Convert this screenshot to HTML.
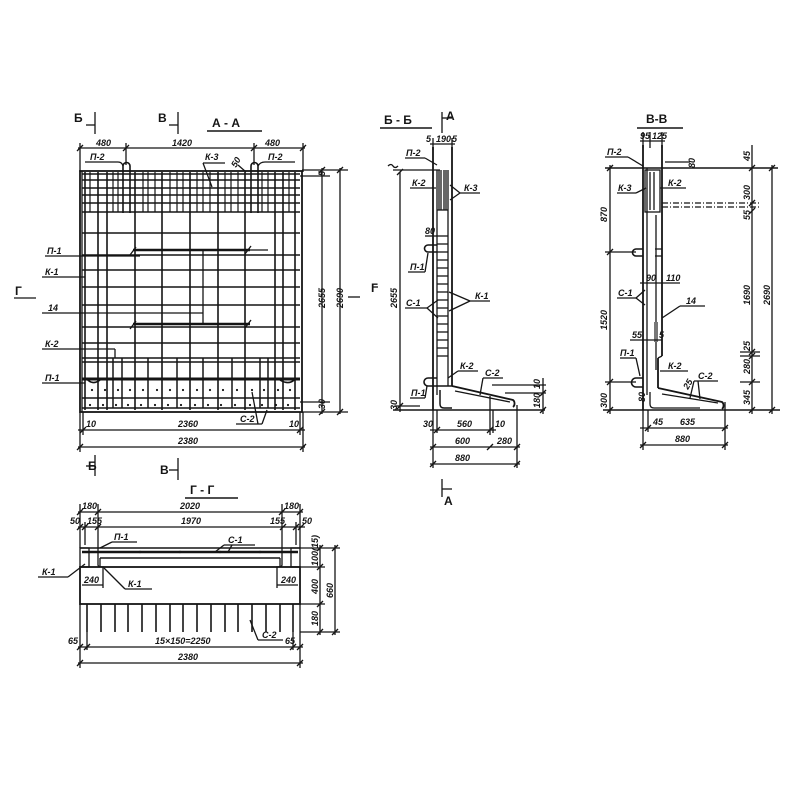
<!DOCTYPE html>
<html><head><meta charset="utf-8">
<style>
html,body{margin:0;padding:0;background:#fff;}
svg{display:block;}
text{font-family:"Liberation Sans",sans-serif;font-style:italic;font-weight:bold;fill:#151515;font-size:9px;}
.t{font-size:12px;font-style:normal;}
</style></head><body>
<svg width="800" height="800" viewBox="0 0 800 800" xmlns="http://www.w3.org/2000/svg">
<rect width="800" height="800" fill="#fff"/>
<g stroke="#151515" stroke-width="1.3" fill="none">

<!-- ================= A-A ================= -->
<line x1="95" y1="112" x2="95" y2="134"/><line x1="86" y1="125" x2="95" y2="125"/>
<line x1="178" y1="112" x2="178" y2="134"/><line x1="169" y1="125" x2="178" y2="125"/>
<line x1="207" y1="131" x2="262" y2="131" stroke-width="1.6"/>
<line x1="95" y1="455" x2="95" y2="476"/><line x1="86" y1="466" x2="95" y2="466"/>
<line x1="178" y1="458" x2="178" y2="480"/><line x1="169" y1="470" x2="178" y2="470"/>
<line x1="78" y1="148" x2="305" y2="148"/>
<line x1="80" y1="143" x2="80" y2="172"/><line x1="126" y1="143" x2="126" y2="165"/>
<line x1="254" y1="143" x2="254" y2="165"/><line x1="303" y1="143" x2="303" y2="172"/>
<line x1="77" y1="151" x2="83" y2="145"/><line x1="123" y1="151" x2="129" y2="145"/>
<line x1="251" y1="151" x2="257" y2="145"/><line x1="300" y1="151" x2="306" y2="145"/>
<rect x="80" y="171" width="222" height="241" stroke-width="1.8"/>
<line x1="82" y1="171" x2="82" y2="412"/>
<g stroke-width="1.5">
<line x1="82" y1="174" x2="300" y2="174"/><line x1="82" y1="180" x2="300" y2="180"/>
<line x1="82" y1="188" x2="300" y2="188"/><line x1="82" y1="195" x2="300" y2="195"/>
<line x1="82" y1="203" x2="300" y2="203"/><line x1="82" y1="212" x2="300" y2="212"/>
<line x1="82" y1="233" x2="300" y2="233"/><line x1="82" y1="255" x2="300" y2="255"/>
<line x1="82" y1="270" x2="300" y2="270"/><line x1="82" y1="287" x2="300" y2="287"/>
<line x1="82" y1="305" x2="300" y2="305"/><line x1="82" y1="327" x2="300" y2="327"/>
<line x1="82" y1="343" x2="300" y2="343"/><line x1="82" y1="358" x2="300" y2="358"/>
<line x1="82" y1="362" x2="300" y2="362"/><line x1="82" y1="398" x2="300" y2="398"/>
<line x1="82" y1="408" x2="300" y2="408"/>
</g>
<line x1="82" y1="379" x2="300" y2="379" stroke-width="3"/>
<line x1="133" y1="250" x2="250" y2="250" stroke-width="2.6"/>
<line x1="250" y1="250" x2="268" y2="250"/>
<line x1="133" y1="324" x2="250" y2="324" stroke-width="2.6"/>
<line x1="203" y1="250" x2="203" y2="324"/>
<line x1="130" y1="255" x2="136" y2="247"/><line x1="245" y1="254" x2="251" y2="246"/>
<line x1="130" y1="329" x2="136" y2="321"/><line x1="245" y1="328" x2="251" y2="320"/>
<g stroke-width="1.6">
<line x1="85" y1="172" x2="85" y2="410"/><line x1="98" y1="172" x2="98" y2="410"/>
<line x1="107" y1="172" x2="107" y2="410"/><line x1="135" y1="172" x2="135" y2="410"/>
<line x1="162" y1="172" x2="162" y2="410"/><line x1="190" y1="172" x2="190" y2="410"/>
<line x1="218" y1="172" x2="218" y2="410"/><line x1="245" y1="172" x2="245" y2="410"/>
<line x1="275" y1="172" x2="275" y2="410"/><line x1="283" y1="172" x2="283" y2="410"/>
<line x1="295" y1="172" x2="295" y2="410"/>
</g>
<g stroke-width="1.2">
<line x1="90" y1="172" x2="90" y2="212"/><line x1="113" y1="172" x2="113" y2="212"/>
<line x1="118" y1="172" x2="118" y2="212"/><line x1="143" y1="172" x2="143" y2="212"/>
<line x1="148" y1="172" x2="148" y2="212"/><line x1="155" y1="172" x2="155" y2="212"/>
<line x1="170" y1="172" x2="170" y2="212"/><line x1="177" y1="172" x2="177" y2="212"/>
<line x1="183" y1="172" x2="183" y2="212"/><line x1="197" y1="172" x2="197" y2="212"/>
<line x1="203" y1="172" x2="203" y2="212"/><line x1="210" y1="172" x2="210" y2="212"/>
<line x1="225" y1="172" x2="225" y2="212"/><line x1="231" y1="172" x2="231" y2="212"/>
<line x1="238" y1="172" x2="238" y2="212"/><line x1="262" y1="172" x2="262" y2="212"/>
<line x1="268" y1="172" x2="268" y2="212"/><line x1="289" y1="172" x2="289" y2="212"/>
</g>
<path d="M123,213 L123,166 A3.5,3.5 0 0 1 130,166 L130,213" stroke-width="1.6"/>
<path d="M251,213 L251,166 A3.5,3.5 0 0 1 258,166 L258,213" stroke-width="1.6"/>
<g stroke-width="1.5">
<line x1="113" y1="358" x2="113" y2="408"/><line x1="122" y1="358" x2="122" y2="408"/>
<line x1="148" y1="358" x2="148" y2="408"/><line x1="177" y1="358" x2="177" y2="408"/>
<line x1="203" y1="358" x2="203" y2="408"/><line x1="232" y1="358" x2="232" y2="408"/>
<line x1="260" y1="358" x2="260" y2="408"/><line x1="268" y1="358" x2="268" y2="408"/>
</g>
<path d="M86,378 Q92,386 100,380" stroke-width="1.6"/>
<path d="M280,380 Q290,386 296,378" stroke-width="1.6"/>
<line x1="45" y1="256" x2="140" y2="256"/>
<line x1="42" y1="277" x2="85" y2="277"/>
<line x1="42" y1="313" x2="203" y2="313"/>
<line x1="42" y1="349" x2="115" y2="349"/><line x1="115" y1="349" x2="115" y2="358"/>
<line x1="42" y1="383" x2="85" y2="383"/>
<line x1="85" y1="162" x2="118" y2="162"/><path d="M118,162 Q122,162 123,166"/>
<line x1="265" y1="162" x2="295" y2="162"/><path d="M265,162 Q260,162 258,166"/>
<line x1="203" y1="163" x2="225" y2="163"/><line x1="203" y1="163" x2="212" y2="187"/>
<line x1="238" y1="165" x2="246" y2="172"/>
<line x1="236" y1="424" x2="262" y2="424"/><line x1="262" y1="424" x2="267" y2="410"/><line x1="258" y1="424" x2="252" y2="392"/>
<line x1="302" y1="170" x2="348" y2="170"/><line x1="302" y1="412" x2="348" y2="412"/>
<line x1="300" y1="176" x2="330" y2="176"/><line x1="300" y1="402" x2="330" y2="402"/>
<line x1="322" y1="168" x2="322" y2="414"/><line x1="340" y1="168" x2="340" y2="414"/>
<line x1="319" y1="173" x2="325" y2="167"/><line x1="319" y1="415" x2="325" y2="409"/>
<line x1="337" y1="173" x2="343" y2="167"/><line x1="337" y1="415" x2="343" y2="409"/>
<line x1="348" y1="297" x2="360" y2="297"/>
<line x1="14" y1="298" x2="36" y2="298"/>
<line x1="80" y1="412" x2="80" y2="452"/><line x1="83" y1="412" x2="83" y2="435"/>
<line x1="300" y1="412" x2="300" y2="435"/><line x1="303" y1="412" x2="303" y2="452"/>
<line x1="78" y1="430" x2="305" y2="430"/><line x1="78" y1="447" x2="305" y2="447"/>
<line x1="80" y1="433" x2="86" y2="427"/><line x1="297" y1="433" x2="303" y2="427"/>
<line x1="77" y1="450" x2="83" y2="444"/><line x1="300" y1="450" x2="306" y2="444"/>

<!-- ================= Б-Б ================= -->
<line x1="380" y1="128" x2="432" y2="128" stroke-width="1.6"/>
<line x1="442" y1="112" x2="442" y2="133"/><line x1="442" y1="118" x2="452" y2="118"/>
<line x1="433" y1="138" x2="433" y2="150"/><line x1="452" y1="138" x2="452" y2="150"/>
<line x1="430" y1="144" x2="455" y2="144"/>
<line x1="433" y1="147" x2="433" y2="410" stroke-width="1.8"/>
<line x1="452" y1="147" x2="452" y2="386" stroke-width="1.8"/>
<line x1="437" y1="170" x2="437" y2="395"/><line x1="448" y1="170" x2="448" y2="386"/>
<g>
<line x1="439" y1="170" x2="439" y2="210"/><line x1="441" y1="170" x2="441" y2="210"/>
<line x1="444" y1="170" x2="444" y2="210"/><line x1="446" y1="170" x2="446" y2="210"/>
<line x1="437" y1="210" x2="448" y2="210"/>
<line x1="437" y1="236" x2="448" y2="236"/><line x1="437" y1="244" x2="448" y2="244"/>
<line x1="437" y1="252" x2="448" y2="252"/><line x1="437" y1="260" x2="448" y2="260"/>
<line x1="437" y1="268" x2="448" y2="268"/><line x1="437" y1="276" x2="448" y2="276"/>
<line x1="437" y1="284" x2="448" y2="284"/><line x1="437" y1="292" x2="448" y2="292"/>
<line x1="437" y1="300" x2="448" y2="300"/><line x1="437" y1="308" x2="448" y2="308"/>
<line x1="437" y1="316" x2="448" y2="316"/><line x1="437" y1="324" x2="448" y2="324"/>
<line x1="437" y1="332" x2="448" y2="332"/><line x1="437" y1="340" x2="448" y2="340"/>
<line x1="437" y1="348" x2="448" y2="348"/><line x1="437" y1="356" x2="448" y2="356"/>
</g>
<line x1="393" y1="170" x2="440" y2="170"/><path d="M388,166 q3,-3 5,0 q2,3 5,0"/>
<path d="M437,245 L428,245 A3.5,3.5 0 0 0 428,252 L437,252" stroke-width="1.6"/>
<path d="M437,378 L428,378 A4,4 0 0 0 428,386 L452,386" stroke-width="1.6"/>
<path d="M452,386 L513,400 A3,4 0 0 1 513,407" stroke-width="1.8"/>
<path d="M440,390 L440,404 Q440,408 444,408 L452,408" stroke-width="1.5"/>
<line x1="455" y1="391" x2="510" y2="402"/>
<line x1="490" y1="396" x2="490" y2="435"/>
<line x1="393" y1="410" x2="545" y2="410" stroke-width="1.6"/>
<line x1="400" y1="172" x2="400" y2="412"/>
<line x1="397" y1="175" x2="403" y2="169"/><line x1="397" y1="409" x2="403" y2="403"/>
<line x1="395" y1="406" x2="420" y2="406"/>
<line x1="372" y1="287" x2="378" y2="287"/>
<line x1="492" y1="385" x2="546" y2="385"/><line x1="505" y1="393" x2="546" y2="393"/>
<line x1="543" y1="378" x2="543" y2="414"/>
<line x1="540" y1="396" x2="546" y2="390"/><line x1="540" y1="413" x2="546" y2="407"/>
<line x1="433" y1="410" x2="433" y2="468"/><line x1="437" y1="410" x2="437" y2="433"/>
<line x1="493" y1="410" x2="493" y2="433"/><line x1="517" y1="405" x2="517" y2="468"/>
<line x1="430" y1="430" x2="496" y2="430"/>
<line x1="430" y1="447" x2="520" y2="447"/>
<line x1="430" y1="464" x2="520" y2="464"/>
<line x1="434" y1="433" x2="440" y2="427"/><line x1="487" y1="433" x2="493" y2="427"/>
<line x1="430" y1="450" x2="436" y2="444"/><line x1="487" y1="450" x2="493" y2="444"/><line x1="514" y1="450" x2="520" y2="444"/>
<line x1="430" y1="467" x2="436" y2="461"/><line x1="514" y1="467" x2="520" y2="461"/>
<line x1="442" y1="479" x2="442" y2="497"/><line x1="442" y1="489" x2="452" y2="489"/>
<line x1="405" y1="158" x2="425" y2="158"/><line x1="425" y1="158" x2="437" y2="165"/>
<line x1="410" y1="188" x2="436" y2="188"/>
<line x1="460" y1="193" x2="480" y2="193"/><line x1="460" y1="193" x2="450" y2="185"/><line x1="460" y1="193" x2="450" y2="200"/>
<line x1="425" y1="236" x2="437" y2="236"/>
<line x1="408" y1="272" x2="425" y2="272"/><line x1="425" y1="272" x2="428" y2="253"/>
<line x1="470" y1="301" x2="490" y2="301"/><line x1="470" y1="301" x2="449" y2="292"/><line x1="470" y1="301" x2="449" y2="311"/>
<line x1="405" y1="308" x2="427" y2="308"/><line x1="427" y1="308" x2="438" y2="300"/><line x1="427" y1="308" x2="438" y2="318"/>
<line x1="458" y1="371" x2="478" y2="371"/><line x1="458" y1="371" x2="448" y2="378"/>
<line x1="483" y1="378" x2="503" y2="378"/><line x1="483" y1="378" x2="480" y2="395"/>
<line x1="410" y1="398" x2="425" y2="398"/><line x1="425" y1="398" x2="427" y2="386"/>

<!-- ================= В-В ================= -->
<line x1="637" y1="128" x2="683" y2="128" stroke-width="1.6"/>
<line x1="643" y1="132" x2="643" y2="148"/><line x1="650" y1="132" x2="650" y2="148"/><line x1="662" y1="132" x2="662" y2="148"/>
<line x1="640" y1="141" x2="665" y2="141"/>
<line x1="643" y1="145" x2="643" y2="410" stroke-width="1.8"/>
<line x1="647" y1="168" x2="647" y2="395"/>
<line x1="662" y1="145" x2="662" y2="356" stroke-width="1.8"/>
<line x1="662" y1="356" x2="658" y2="358"/>
<line x1="658" y1="358" x2="658" y2="388" stroke-width="1.8"/>
<line x1="656" y1="215" x2="656" y2="370"/>
<line x1="605" y1="168" x2="778" y2="168" stroke-width="1.5"/>
<line x1="665" y1="162" x2="690" y2="162"/>
<rect x="645" y="170" width="15" height="42"/>
<line x1="650" y1="172" x2="650" y2="210"/><line x1="654" y1="172" x2="654" y2="210"/>
<line x1="662" y1="203" x2="760" y2="203" stroke-dasharray="6,2,1,2"/>
<line x1="662" y1="207" x2="760" y2="207" stroke-dasharray="6,2,1,2"/>
<path d="M643,249 L636,249 A3.5,3.5 0 0 0 636,256 L643,256" stroke-width="1.6"/>
<path d="M655,249 L662,249 M655,256 L662,256"/>
<path d="M643,378 L636,378 A4,4 0 0 0 636,387 L643,387" stroke-width="1.6"/>
<path d="M658,388 L722,402 A3,4 0 0 1 722,409" stroke-width="1.8"/>
<path d="M650,392 L650,404 Q650,408 654,408 L700,408"/>
<line x1="662" y1="394" x2="718" y2="403"/>
<line x1="603" y1="410" x2="780" y2="410" stroke-width="1.6"/>
<line x1="610" y1="165" x2="610" y2="414"/>
<line x1="607" y1="171" x2="613" y2="165"/><line x1="607" y1="255" x2="613" y2="249"/>
<line x1="607" y1="385" x2="613" y2="379"/><line x1="607" y1="413" x2="613" y2="407"/>
<line x1="605" y1="252" x2="636" y2="252"/><line x1="605" y1="382" x2="636" y2="382"/>
<line x1="752" y1="145" x2="752" y2="414"/><line x1="772" y1="165" x2="772" y2="414"/>
<line x1="749" y1="171" x2="755" y2="165"/><line x1="749" y1="206" x2="755" y2="200"/>
<line x1="749" y1="214" x2="755" y2="208"/><line x1="749" y1="355" x2="755" y2="349"/>
<line x1="749" y1="359" x2="755" y2="353"/><line x1="749" y1="385" x2="755" y2="379"/>
<line x1="749" y1="413" x2="755" y2="407"/>
<line x1="769" y1="171" x2="775" y2="165"/><line x1="769" y1="413" x2="775" y2="407"/>
<line x1="740" y1="352" x2="760" y2="352"/><line x1="740" y1="356" x2="760" y2="356"/>
<line x1="740" y1="382" x2="760" y2="382"/>
<line x1="643" y1="410" x2="643" y2="450"/><line x1="648" y1="410" x2="648" y2="432"/>
<line x1="725" y1="402" x2="725" y2="450"/>
<line x1="640" y1="428" x2="728" y2="428"/><line x1="640" y1="445" x2="728" y2="445"/>
<line x1="645" y1="431" x2="651" y2="425"/><line x1="722" y1="431" x2="728" y2="425"/>
<line x1="640" y1="448" x2="646" y2="442"/><line x1="722" y1="448" x2="728" y2="442"/>
<line x1="605" y1="157" x2="628" y2="157"/><line x1="628" y1="157" x2="643" y2="166"/>
<line x1="617" y1="193" x2="636" y2="193"/><line x1="636" y1="193" x2="646" y2="188"/>
<line x1="660" y1="188" x2="686" y2="188"/>
<line x1="640" y1="283" x2="680" y2="283"/>
<line x1="617" y1="298" x2="636" y2="298"/><line x1="636" y1="298" x2="645" y2="290"/><line x1="636" y1="298" x2="645" y2="305"/>
<line x1="680" y1="306" x2="705" y2="306"/><line x1="680" y1="306" x2="662" y2="318"/>
<rect x="654" y="322" width="4" height="20" fill="#777" stroke="none"/>
<line x1="630" y1="340" x2="662" y2="340"/>
<line x1="620" y1="358" x2="636" y2="358"/><line x1="636" y1="358" x2="640" y2="376"/>
<line x1="660" y1="371" x2="688" y2="371"/>
<line x1="694" y1="381" x2="718" y2="381"/><line x1="694" y1="381" x2="690" y2="398"/><line x1="698" y1="381" x2="700" y2="399"/>

<!-- ================= Г-Г ================= -->
<line x1="185" y1="498" x2="238" y2="498" stroke-width="1.6"/>
<line x1="78" y1="512" x2="303" y2="512"/><line x1="78" y1="527" x2="305" y2="527"/>
<line x1="80" y1="504" x2="80" y2="548"/><line x1="98" y1="504" x2="98" y2="545"/>
<line x1="282" y1="504" x2="282" y2="545"/><line x1="300" y1="504" x2="300" y2="548"/>
<line x1="85" y1="522" x2="85" y2="545"/><line x1="296" y1="522" x2="296" y2="545"/>
<line x1="77" y1="515" x2="83" y2="509"/><line x1="95" y1="515" x2="101" y2="509"/>
<line x1="279" y1="515" x2="285" y2="509"/><line x1="297" y1="515" x2="303" y2="509"/>
<line x1="77" y1="530" x2="83" y2="524"/><line x1="82" y1="530" x2="88" y2="524"/><line x1="95" y1="530" x2="101" y2="524"/>
<line x1="280" y1="530" x2="286" y2="524"/><line x1="293" y1="530" x2="299" y2="524"/><line x1="298" y1="530" x2="304" y2="524"/>
<line x1="80" y1="548" x2="300" y2="548" stroke-width="1.6"/>
<line x1="82" y1="552" x2="298" y2="552" stroke-width="2.6"/>
<line x1="100" y1="558" x2="280" y2="558" stroke-width="1.6"/>
<rect x="80" y="548" width="9" height="19"/><rect x="291" y="548" width="9" height="19"/>
<path d="M100,558 L100,567 M280,558 L280,567"/>
<path d="M98,545 L98,565 Q98,567 104,567"/>
<path d="M282,545 L282,565 Q282,567 276,567"/>
<rect x="80" y="567" width="220" height="37" stroke-width="1.8"/>
<g stroke-width="1.6">
<line x1="87" y1="604" x2="87" y2="632"/><line x1="101" y1="604" x2="101" y2="632"/>
<line x1="115" y1="604" x2="115" y2="632"/><line x1="128" y1="604" x2="128" y2="632"/>
<line x1="142" y1="604" x2="142" y2="632"/><line x1="156" y1="604" x2="156" y2="632"/>
<line x1="170" y1="604" x2="170" y2="632"/><line x1="183" y1="604" x2="183" y2="632"/>
<line x1="197" y1="604" x2="197" y2="632"/><line x1="211" y1="604" x2="211" y2="632"/>
<line x1="225" y1="604" x2="225" y2="632"/><line x1="238" y1="604" x2="238" y2="632"/>
<line x1="252" y1="604" x2="252" y2="632"/><line x1="266" y1="604" x2="266" y2="632"/>
<line x1="280" y1="604" x2="280" y2="632"/><line x1="293" y1="604" x2="293" y2="632"/>
</g>
<line x1="80" y1="604" x2="80" y2="668"/><line x1="300" y1="604" x2="300" y2="668"/>
<line x1="87" y1="632" x2="87" y2="650"/><line x1="293" y1="632" x2="293" y2="650"/>
<line x1="78" y1="647" x2="303" y2="647"/><line x1="78" y1="663" x2="303" y2="663"/>
<line x1="77" y1="650" x2="83" y2="644"/><line x1="84" y1="650" x2="90" y2="644"/>
<line x1="290" y1="650" x2="296" y2="644"/><line x1="297" y1="650" x2="303" y2="644"/>
<line x1="77" y1="666" x2="83" y2="660"/><line x1="297" y1="666" x2="303" y2="660"/>
<line x1="300" y1="548" x2="340" y2="548"/><line x1="300" y1="567" x2="325" y2="567"/>
<line x1="300" y1="604" x2="325" y2="604"/><line x1="300" y1="632" x2="340" y2="632"/>
<line x1="320" y1="545" x2="320" y2="635"/><line x1="335" y1="545" x2="335" y2="635"/>
<line x1="317" y1="551" x2="323" y2="545"/><line x1="317" y1="570" x2="323" y2="564"/>
<line x1="317" y1="607" x2="323" y2="601"/><line x1="317" y1="635" x2="323" y2="629"/>
<line x1="332" y1="551" x2="338" y2="545"/><line x1="332" y1="635" x2="338" y2="629"/>
<line x1="38" y1="577" x2="68" y2="577"/><line x1="68" y1="577" x2="85" y2="564"/>
<line x1="112" y1="542" x2="137" y2="542"/><line x1="112" y1="542" x2="100" y2="548"/>
<line x1="224" y1="545" x2="255" y2="545"/><line x1="224" y1="545" x2="215" y2="552"/><line x1="232" y1="545" x2="228" y2="552"/>
<line x1="125" y1="589" x2="152" y2="589"/><line x1="125" y1="589" x2="104" y2="568"/>
<line x1="103" y1="567" x2="103" y2="588"/><line x1="277" y1="567" x2="277" y2="588"/>
<line x1="82" y1="585" x2="103" y2="585"/><line x1="277" y1="585" x2="298" y2="585"/>
<line x1="258" y1="640" x2="283" y2="640"/><line x1="258" y1="640" x2="250" y2="620"/>
</g>

<g fill="#151515">
<circle cx="92" cy="390" r="1.1"/><circle cx="105" cy="390" r="1.1"/><circle cx="118" cy="390" r="1.1"/>
<circle cx="130" cy="390" r="1.1"/><circle cx="143" cy="390" r="1.1"/><circle cx="157" cy="390" r="1.1"/>
<circle cx="170" cy="390" r="1.1"/><circle cx="183" cy="390" r="1.1"/><circle cx="197" cy="390" r="1.1"/>
<circle cx="210" cy="390" r="1.1"/><circle cx="223" cy="390" r="1.1"/><circle cx="237" cy="390" r="1.1"/>
<circle cx="252" cy="390" r="1.1"/><circle cx="264" cy="390" r="1.1"/><circle cx="278" cy="390" r="1.1"/>
<circle cx="290" cy="390" r="1.1"/>
<circle cx="90" cy="405" r="1.1"/><circle cx="103" cy="405" r="1.1"/><circle cx="116" cy="405" r="1.1"/>
<circle cx="128" cy="405" r="1.1"/><circle cx="141" cy="405" r="1.1"/><circle cx="155" cy="405" r="1.1"/>
<circle cx="168" cy="405" r="1.1"/><circle cx="181" cy="405" r="1.1"/><circle cx="195" cy="405" r="1.1"/>
<circle cx="208" cy="405" r="1.1"/><circle cx="221" cy="405" r="1.1"/><circle cx="235" cy="405" r="1.1"/>
<circle cx="250" cy="405" r="1.1"/><circle cx="262" cy="405" r="1.1"/><circle cx="276" cy="405" r="1.1"/>
<circle cx="288" cy="405" r="1.1"/>
<circle cx="220" cy="552" r="1.2"/><circle cx="260" cy="552" r="1.2"/><circle cx="180" cy="552" r="1.2"/><circle cx="140" cy="552" r="1.2"/>
</g>

<!-- TEXT -->
<text x="74" y="122" class="t">Б</text>
<text x="158" y="122" class="t">В</text>
<text x="212" y="127" class="t">А - А</text>
<text x="96" y="146">480</text>
<text x="172" y="146">1420</text>
<text x="265" y="146">480</text>
<text x="90" y="160">П-2</text>
<text x="268" y="160">П-2</text>
<text x="205" y="160">К-3</text>
<text x="0" y="0" transform="translate(236,168) rotate(-60)">50</text>
<text x="47" y="254">П-1</text>
<text x="45" y="275">К-1</text>
<text x="15" y="295" class="t">Г</text>
<text x="48" y="311">14</text>
<text x="45" y="347">К-2</text>
<text x="45" y="381">П-1</text>
<text x="240" y="422">С-2</text>
<text x="0" y="0" transform="translate(325,176) rotate(-90)" font-size="8">5</text>
<text x="0" y="0" transform="translate(325,308) rotate(-90)">2655</text>
<text x="0" y="0" transform="translate(343,308) rotate(-90)">2690</text>
<text x="0" y="0" transform="translate(325,409) rotate(-90)">30</text>
<text x="86" y="427">10</text>
<text x="178" y="427">2360</text>
<text x="289" y="427">10</text>
<text x="178" y="444">2380</text>
<text x="88" y="470" class="t">Б</text>
<text x="160" y="474" class="t">В</text>

<text x="384" y="124" class="t">Б - Б</text>
<text x="446" y="120" class="t">А</text>
<text x="426" y="142" font-size="8">5</text>
<text x="436" y="142" font-size="8">190</text>
<text x="452" y="142" font-size="8">5</text>
<text x="406" y="156">П-2</text>
<text x="412" y="186">К-2</text>
<text x="464" y="191">К-3</text>
<text x="425" y="234">80</text>
<text x="410" y="270">П-1</text>
<text x="475" y="299">К-1</text>
<text x="406" y="306">С-1</text>
<text x="460" y="369">К-2</text>
<text x="485" y="376">С-2</text>
<text x="411" y="396">П-1</text>
<text x="371" y="292" class="t">Г</text>
<text x="0" y="0" transform="translate(397,308) rotate(-90)">2655</text>
<text x="0" y="0" transform="translate(397,410) rotate(-90)">30</text>
<text x="0" y="0" transform="translate(540,389) rotate(-90)">10</text>
<text x="0" y="0" transform="translate(540,408) rotate(-90)">180</text>
<text x="423" y="427">30</text>
<text x="457" y="427">560</text>
<text x="495" y="427">10</text>
<text x="455" y="444">600</text>
<text x="497" y="444">280</text>
<text x="455" y="461">880</text>
<text x="444" y="505" class="t">А</text>

<text x="646" y="123" class="t">В-В</text>
<text x="640" y="139" font-size="8">95</text>
<text x="652" y="139" font-size="8">125</text>
<text x="607" y="155">П-2</text>
<text x="0" y="0" transform="translate(695,168) rotate(-90)">80</text>
<text x="618" y="191">К-3</text>
<text x="668" y="186">К-2</text>
<text x="646" y="281">90</text>
<text x="666" y="281">110</text>
<text x="618" y="296">С-1</text>
<text x="686" y="304">14</text>
<text x="632" y="338" font-size="8">55</text>
<text x="659" y="338" font-size="8">5</text>
<text x="620" y="356">П-1</text>
<text x="668" y="369">К-2</text>
<text x="698" y="379">С-2</text>
<text x="0" y="0" transform="translate(688,390) rotate(-60)" font-size="8">25</text>
<text x="0" y="0" transform="translate(645,402) rotate(-90)" font-size="8">80</text>
<text x="0" y="0" transform="translate(607,222) rotate(-90)">870</text>
<text x="0" y="0" transform="translate(607,330) rotate(-90)">1520</text>
<text x="0" y="0" transform="translate(607,408) rotate(-90)">300</text>
<text x="0" y="0" transform="translate(750,161) rotate(-90)">45</text>
<text x="0" y="0" transform="translate(750,200) rotate(-90)">300</text>
<text x="0" y="0" transform="translate(750,220) rotate(-90)">55</text>
<text x="0" y="0" transform="translate(750,305) rotate(-90)">1690</text>
<text x="0" y="0" transform="translate(750,351) rotate(-90)" font-size="8">25</text>
<text x="0" y="0" transform="translate(750,374) rotate(-90)">280</text>
<text x="0" y="0" transform="translate(750,405) rotate(-90)">345</text>
<text x="0" y="0" transform="translate(770,305) rotate(-90)">2690</text>
<text x="653" y="425">45</text>
<text x="680" y="425">635</text>
<text x="675" y="442">880</text>

<text x="190" y="494" class="t">Г - Г</text>
<text x="82" y="509">180</text>
<text x="180" y="509">2020</text>
<text x="284" y="509">180</text>
<text x="70" y="524">50</text>
<text x="87" y="524">155</text>
<text x="181" y="524">1970</text>
<text x="270" y="524">155</text>
<text x="302" y="524">50</text>
<text x="114" y="540">П-1</text>
<text x="228" y="543">С-1</text>
<text x="42" y="575">К-1</text>
<text x="128" y="587">К-1</text>
<text x="84" y="583">240</text>
<text x="281" y="583">240</text>
<text x="262" y="638">С-2</text>
<text x="68" y="644">65</text>
<text x="155" y="644">15×150=2250</text>
<text x="285" y="644">65</text>
<text x="178" y="660">2380</text>
<text x="0" y="0" transform="translate(318,566) rotate(-90)" font-size="8">100(15)</text>
<text x="0" y="0" transform="translate(318,594) rotate(-90)">400</text>
<text x="0" y="0" transform="translate(318,626) rotate(-90)">180</text>
<text x="0" y="0" transform="translate(333,598) rotate(-90)">660</text>
</svg>
</body></html>
